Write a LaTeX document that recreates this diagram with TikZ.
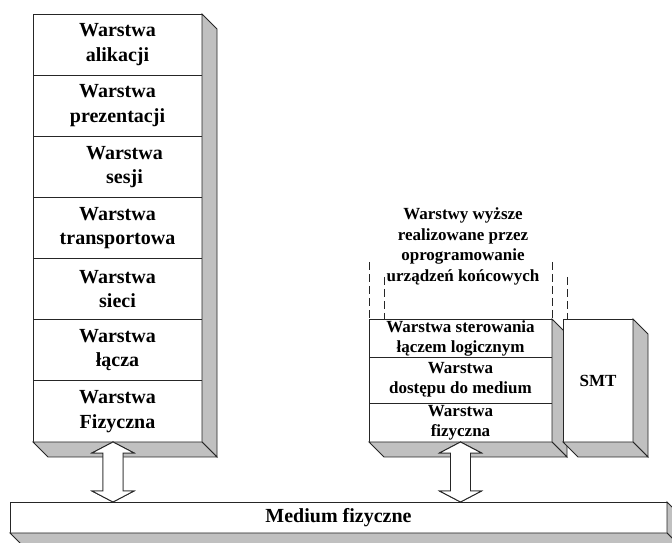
\documentclass[tikz,border=0pt]{standalone}
\usepackage{fontspec}
\setmainfont{Liberation Serif}
\usetikzlibrary{positioning,calc}
\definecolor{sidegrey}{HTML}{C0C0C0}

% double-headed block arrow between a top point #1 and a bottom point #2
\newcommand\blockarrowpath[2]{%
  let \p1=(#1), \p2=(#2) in
  (\x1,\y1) -- (\x1+21pt,\y1-11pt) -- (\x1+10pt,\y1-11pt) -- (\x1+10pt,\y2+11pt)
  -- (\x1+21pt,\y2+11pt) -- (\x1,\y2) -- (\x1-21pt,\y2+11pt) -- (\x1-10pt,\y2+11pt)
  -- (\x1-10pt,\y1-11pt) -- (\x1-21pt,\y1-11pt) -- cycle}
\newcommand\blockarrow[2]{%
  \filldraw[side, shift={(8pt,-3pt)}] \blockarrowpath{#1}{#2};
  \filldraw[edge, fill=white] \blockarrowpath{#1}{#2};}

\begin{document}
\begin{tikzpicture}[x=1pt,y=1pt,
  edge/.style={draw=black!85, line width=0.9pt, line join=miter},
  front/.style={edge, fill=white, rectangle, inner sep=0pt, outer sep=0pt, align=center,
    font=\bfseries\fontsize{20}{24.5}\selectfont},
  layerL/.style={front, minimum width=169pt, minimum height=61.14pt},
  layerR/.style={front, minimum width=183pt, font=\bfseries\fontsize{17}{20}\selectfont},
  side/.style={edge, fill=sidegrey},
  hidden/.style={draw=black!85, line width=0.9pt, dash pattern=on 8pt off 4pt},
  plain/.style={align=center, inner sep=0pt, font=\bfseries\fontsize{17}{20.4}\selectfont},
]
\clip (0,0) rectangle (672,543);

% ---- seven-layer stack ----
\node[layerL] (l1) at (117.5,498.43) {Warstwa\\alikacji};
\node[layerL, below=0pt of l1] (l2) {Warstwa\\prezentacji};
\node[layerL, below=0pt of l2] (l3) {\hspace*{14pt}Warstwa\\\hspace*{14pt}sesji};
\node[layerL, below=0pt of l3] (l4) {Warstwa\\transportowa};
\node[layerL, below=0pt of l4] (l5) {Warstwa\\sieci};
\node[layerL, below=0pt of l5] (l6) {Warstwa\\łącza};
\node[layerL, below=0pt of l6] (l7) {Warstwa\\Fizyczna};
\filldraw[side] (l1.north east) -- ++(15,-15) -- ($(l7.south east)+(15,-15)$) -- (l7.south east) -- cycle;
\filldraw[side] (l7.south west) -- (l7.south east) -- ++(15,-15) -- ($(l7.south west)+(15,-15)$) -- cycle;

% ---- LAN stack ----
\node[layerR, minimum height=38pt] (r1) at (460.5,205) {Warstwa sterowania\\łączem logicznym};
\node[layerR, minimum height=46pt, below=0pt of r1] (r2) {Warstwa\\dostępu do medium};
\node[layerR, minimum height=39pt, below=0pt of r2] (r3) {Warstwa\\fizyczna};
\filldraw[side] (r1.north east) -- ++(15,-15) -- ($(r3.south east)+(15,-15)$) -- (r3.south east) -- cycle;
\filldraw[side] (r3.south west) -- (r3.south east) -- ++(15,-15) -- ($(r3.south west)+(15,-15)$) -- cycle;

% ---- station management ----
\node[front, minimum width=70pt, minimum height=123pt, font=\bfseries\fontsize{17}{20}\selectfont] (smt) at (598,162.5) {SMT};
\filldraw[side] (smt.north east) -- ++(15,-15) -- ($(smt.south east)+(15,-15)$) -- (smt.south east) -- cycle;
\filldraw[side] (smt.south west) -- (smt.south east) -- ++(15,-15) -- ($(smt.south west)+(15,-15)$) -- cycle;

% ---- upper layers (software) ----
\node[plain] (upper) at (463,296.5) {Warstwy wyższe\\realizowane przez\\oprogramowanie\\urządzeń końcowych};
\draw[hidden] ([yshift=57pt]r1.north west) -- (r1.north west);
\draw[hidden] ([xshift=15pt,yshift=42pt]r1.north west) -- ([xshift=15pt]r1.north west);
\draw[hidden] ([yshift=57pt]r1.north east) -- (r1.north east);
\draw[hidden] ([xshift=15pt,yshift=42pt]r1.north east) -- ([xshift=15pt]r1.north east);

% ---- arrows to the medium ----
\coordinate (medtop) at (338.5,41);
\coordinate (aLtop) at ([xshift=-4.5pt]l7.south);
\coordinate (aLbot) at (aLtop |- medtop);
\coordinate (aRtop) at (r3.south);
\coordinate (aRbot) at (aRtop |- medtop);
\blockarrow{aLtop}{aLbot}
\blockarrow{aRtop}{aRbot}

% ---- physical medium ----
\node[front, minimum width=657pt, minimum height=31pt, anchor=north] (med) at (medtop) {Medium fizyczne};
\filldraw[side] (med.north east) -- ++(15,-15) -- ($(med.south east)+(15,-15)$) -- (med.south east) -- cycle;
\filldraw[side] (med.south west) -- (med.south east) -- ++(15,-15) -- ($(med.south west)+(15,-15)$) -- cycle;
\end{tikzpicture}
\end{document}
